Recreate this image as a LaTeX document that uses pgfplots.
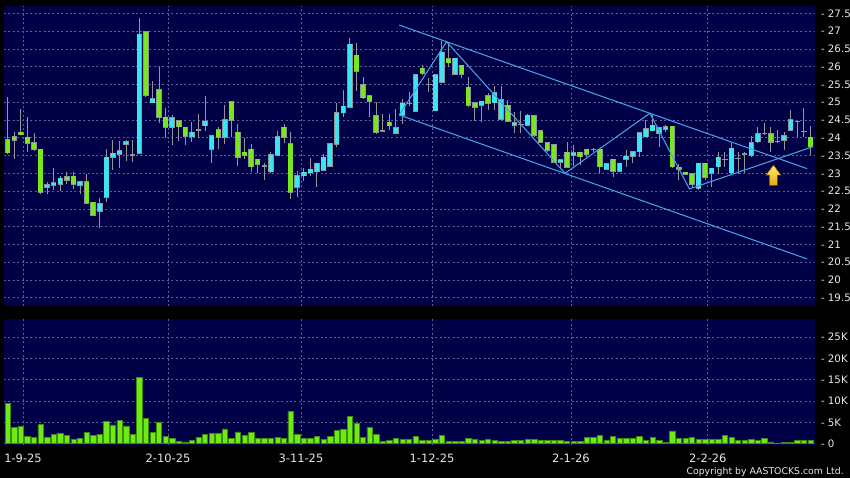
\documentclass[border=0pt]{standalone}
\usepackage{fontspec}
\setmainfont{DejaVu Sans}
\usepackage{pgfplots}
\usepackage{pgfplotstable}
\pgfplotsset{compat=1.18}
\definecolor{navy}{RGB}{0,0,70}
\definecolor{gridc}{RGB}{95,95,150}
\definecolor{cyanc}{RGB}{60,228,240}
\definecolor{greenc}{RGB}{120,232,28}
\definecolor{outc}{RGB}{140,150,150}
\definecolor{wickc}{RGB}{150,150,150}
\definecolor{volc}{RGB}{110,235,20}
\definecolor{voledge}{RGB}{60,140,10}
\definecolor{trendc}{RGB}{70,160,230}
\definecolor{labc}{RGB}{232,232,232}

\pgfplotstableread{
k o h l c v
0 23.94 25.16 23.54 23.58 9.45
1 24.02 24.16 23.41 23.93 3.8
2 24.15 24.81 24.08 24.09 4.0
3 24.01 24.58 23.61 23.84 1.8
4 23.86 24.14 23.64 23.67 1.5
5 23.67 23.67 22.41 22.46 4.45
6 22.61 22.76 22.41 22.67 1.6
7 22.67 23.15 22.53 22.73 2.1
8 22.70 22.91 22.51 22.86 2.4
9 22.89 23.03 22.69 22.80 1.95
10 22.91 23.03 22.57 22.69 1.1
11 22.66 22.75 22.43 22.75 1.2
12 22.75 22.99 22.15 22.16 2.65
13 22.18 22.18 21.80 21.82 2.0
14 21.93 22.30 21.47 22.15 2.25
15 22.32 23.68 22.18 23.45 5.2
16 23.45 23.94 23.09 23.56 4.4
17 23.53 23.92 23.16 23.63 5.4
18 23.82 23.94 23.36 23.88 4.2
19 23.52 23.94 23.33 23.52 2.25
20 23.56 27.36 23.56 26.91 15.5
21 26.97 27.00 25.15 25.20 6.0
22 24.99 25.60 24.97 25.09 2.65
23 25.34 26.00 24.42 24.57 5.1
24 24.57 24.85 24.00 24.29 1.8
25 24.29 24.64 23.80 24.55 1.3
26 24.48 24.50 23.92 24.31 0.5
27 24.29 24.29 23.81 24.05 0.45
28 24.03 24.44 23.88 24.15 0.8
29 24.22 24.67 24.00 24.22 1.55
30 24.34 25.17 24.19 24.46 2.1
31 23.67 24.05 23.30 24.05 2.35
32 24.22 24.31 23.67 24.01 2.5
33 24.01 24.91 23.82 24.50 3.5
34 25.00 25.00 24.01 24.50 1.3
35 24.15 24.39 23.21 23.45 2.8
36 23.59 24.00 23.39 23.51 1.95
37 23.67 23.82 23.05 23.19 2.6
38 23.39 23.39 23.00 23.25 1.2
39 23.21 23.28 22.81 23.21 1.2
40 23.05 23.61 23.00 23.52 1.2
41 23.52 24.19 23.50 24.03 1.5
42 24.29 24.39 23.86 24.01 1.2
43 23.82 24.15 22.29 22.46 7.6
44 22.62 23.06 22.34 22.93 2.25
45 22.93 23.14 22.78 23.03 1.2
46 23.02 23.42 22.91 23.11 1.2
47 23.05 23.28 22.61 23.28 1.8
48 23.09 23.53 23.07 23.45 1.1
49 23.21 23.82 23.19 23.82 1.65
50 23.82 24.97 23.75 24.71 3.2
51 24.71 25.34 24.59 24.88 3.45
52 24.86 26.80 24.86 26.63 6.4
53 26.32 26.66 25.32 25.88 4.7
54 25.48 25.70 25.09 25.13 1.55
55 25.17 25.17 24.57 25.03 3.9
56 24.61 25.00 24.10 24.15 2.2
57 24.19 24.66 24.15 24.19 0.6
58 24.43 24.67 24.22 24.34 0.85
59 24.13 24.82 24.12 24.27 1.2
60 24.64 25.10 24.39 24.97 0.95
61 24.97 25.30 24.90 24.97 0.95
62 24.75 25.79 24.73 25.77 1.65
63 25.95 26.05 25.77 25.81 0.7
64 25.50 25.67 25.30 25.50 0.8
65 24.76 25.79 24.74 25.77 0.95
66 25.56 26.73 25.53 26.40 1.95
67 26.21 26.66 26.00 26.11 0.55
68 25.79 26.23 25.76 26.23 0.55
69 26.04 26.04 25.67 25.79 0.55
70 25.42 25.70 24.87 24.91 1.2
71 24.99 24.99 24.48 24.86 0.95
72 24.91 25.02 24.45 25.02 0.7
73 25.18 25.27 24.78 24.97 1.0
74 24.99 25.46 24.78 25.27 0.85
75 24.52 25.46 24.52 25.06 0.6
76 24.91 25.06 24.43 24.47 0.55
77 24.36 24.73 24.12 24.42 0.8
78 24.38 24.74 24.12 24.38 0.7
79 24.36 24.67 24.33 24.63 0.95
80 24.62 24.62 24.03 24.08 0.95
81 24.20 24.20 23.84 23.88 0.85
82 23.86 23.86 23.61 23.66 0.8
83 23.81 23.81 23.28 23.31 0.8
84 23.31 23.40 23.14 23.38 0.7
85 23.59 23.89 23.14 23.17 0.6
86 23.52 23.80 23.21 23.58 0.6
87 23.59 23.59 23.23 23.47 0.6
88 23.67 23.67 23.47 23.53 1.4
89 23.67 23.70 23.60 23.67 1.4
90 23.67 23.67 23.00 23.19 1.95
91 23.11 23.26 23.09 23.26 0.7
92 23.39 23.39 22.89 23.07 1.65
93 23.07 23.28 23.05 23.28 1.2
94 23.40 23.66 23.19 23.48 1.2
95 23.48 23.61 23.28 23.61 1.2
96 23.61 24.14 23.47 24.14 1.7
97 24.03 24.50 24.03 24.26 0.85
98 24.20 24.67 24.20 24.35 1.55
99 24.12 24.31 23.73 24.27 0.8
100 24.25 24.36 24.17 24.31 0.4
101 24.32 24.32 23.14 23.19 3.0
102 23.17 23.26 22.81 23.12 1.2
103 23.03 23.03 22.95 22.98 1.2
104 22.98 22.98 22.58 22.70 1.5
105 22.58 23.28 22.53 23.28 0.95
106 23.28 23.28 22.81 22.89 1.1
107 23.00 23.14 22.61 23.14 1.1
108 23.19 23.61 22.98 23.45 1.1
109 23.39 23.61 23.19 23.39 1.95
110 23.02 23.86 22.98 23.70 1.4
111 23.41 23.61 22.98 23.41 0.85
112 23.54 23.61 23.00 23.54 0.7
113 23.52 24.05 23.45 23.86 0.95
114 23.89 24.31 23.86 24.10 0.7
115 24.12 24.41 24.08 24.12 1.2
116 24.10 24.31 23.61 23.87 0.45
117 23.89 24.22 23.86 23.89 0.15
118 23.94 24.17 23.66 24.06 0.25
119 24.22 24.78 24.19 24.50 0.3
120 24.45 24.48 24.01 24.45 0.8
121 24.17 24.83 24.01 24.17 0.8
122 24.01 24.33 23.52 23.75 0.8
}\candles

\begin{document}
\begin{tikzpicture}
\fill[black] (0,0) rectangle (637.5pt,358.5pt);
\useasboundingbox (0,0) rectangle (637.5pt,358.5pt);

\begin{axis}[
  at={(3pt,129pt)}, anchor=south west, scale only axis,
  width=608.25pt, height=225.2pt,
  xmin=-0.56, xmax=122.69, ymin=19.267, ymax=27.714,
  axis background/.style={fill=navy},
  axis line style={draw=none},
  xtick={2.33,24.36,44.57,64.48,85.6,106.4}, xticklabels={},
  ytick={19.5,20,20.5,21,21.5,22,22.5,23,23.5,24,24.5,25,25.5,26,26.5,27,27.5},
  yticklabels={- 19.5,- 20,- 20.5,- 21,- 21.5,- 22,- 22.5,- 23,- 23.5,- 24,- 24.5,- 25,- 25.5,- 26,- 26.5,- 27,- 27.5},
  yticklabel pos=right,
  major tick length=0pt,
  grid=major,
  major grid style={gridc, dash pattern=on 1.5pt off 1.8pt, line width=0.5pt},
  yticklabel style={anchor=west, inner sep=0pt, xshift=4.3pt, font=\fontsize{7.7}{8}\selectfont, text=labc},
]
% wicks
\addplot[draw=none, mark=none, error bars/.cd, y dir=minus, y explicit, error mark=none,
  error bar style={line width=0.75pt, draw=wickc}]
  table[x=k, y=h, y error minus expr={\thisrow{h}-\thisrow{l}}] {\candles};
% body outlines
\addplot[draw=none, mark=none, error bars/.cd, y dir=minus, y explicit, error mark=none,
  error bar style={line width=4.1pt, draw=outc}]
  table[x=k, y expr={max(\thisrow{o},\thisrow{c})+0.02}, y error minus expr={abs(\thisrow{o}-\thisrow{c})+0.04}] {\candles};
% rising bodies
\addplot[draw=none, mark=none, error bars/.cd, y dir=minus, y explicit, error mark=none,
  error bar style={line width=3.2pt, draw=cyanc}]
  table[x=k, y=c, y error minus expr={max(\thisrow{c}-\thisrow{o},0)}] {\candles};
% falling bodies
\addplot[draw=none, mark=none, error bars/.cd, y dir=minus, y explicit, error mark=none,
  error bar style={line width=3.2pt, draw=greenc}]
  table[x=k, y=o, y error minus expr={max(\thisrow{o}-\thisrow{c},0)}] {\candles};
% trend lines
\addplot[trendc, line width=0.8pt, mark=none] coordinates {(59.5,27.17) (121.5,23.13)};
\addplot[trendc, line width=0.8pt, mark=none] coordinates {(59.5,24.64) (121.5,20.59)};
\addplot[trendc, line width=0.8pt, mark=none] coordinates {(59.5,24.64) (66.7,26.70) (84.7,23.00) (97.6,24.69) (103.6,22.56) (122.4,23.75)};
% arrow
\addplot[draw={rgb,255:red,120;green,80;blue,0}, line width=0.4pt, top color={rgb,255:red,255;green,240;blue,110}, bottom color={rgb,255:red,235;green,165;blue,15}, mark=none]
  coordinates {(116.38,23.233) (117.52,22.95) (116.96,22.95) (116.96,22.66) (115.74,22.66) (115.74,22.95) (115.24,22.95)} -- cycle;
\end{axis}

\begin{axis}[
  at={(3pt,25.1pt)}, anchor=south west, scale only axis,
  width=608.25pt, height=94.1pt,
  xmin=-0.56, xmax=122.69, ymin=-0.19, ymax=29.2,
  axis background/.style={fill=navy},
  axis line style={draw=none},
  xtick={2.33,24.36,44.57,64.48,85.6,106.4},
  xticklabels={1-9-25,2-10-25,3-11-25,1-12-25,2-1-26,2-2-26},
  ytick={0,5,10,15,20,25},
  yticklabels={- 0,- 5K,- 10K,- 15K,- 20K,- 25K},
  yticklabel pos=right,
  major tick length=0pt,
  grid=major,
  major grid style={gridc, dash pattern=on 1.5pt off 1.8pt, line width=0.5pt},
  yticklabel style={anchor=west, inner sep=0pt, xshift=4.3pt, font=\fontsize{7.7}{8}\selectfont, text=labc},
  xticklabel style={anchor=north, inner sep=0pt, yshift=-7.1pt, font=\fontsize{8.6}{9}\selectfont, text=labc},
]
\addplot[ybar, bar width=4pt, fill=volc, draw=voledge, line width=0.4pt] table[x=k, y=v] {\candles};
\end{axis}

\node[anchor=east, inner sep=0pt, text=labc, font=\fontsize{7.0}{8}\selectfont] at (633pt,4.7pt) {Copyright by AASTOCKS.com Ltd.};
\end{tikzpicture}
\end{document}
